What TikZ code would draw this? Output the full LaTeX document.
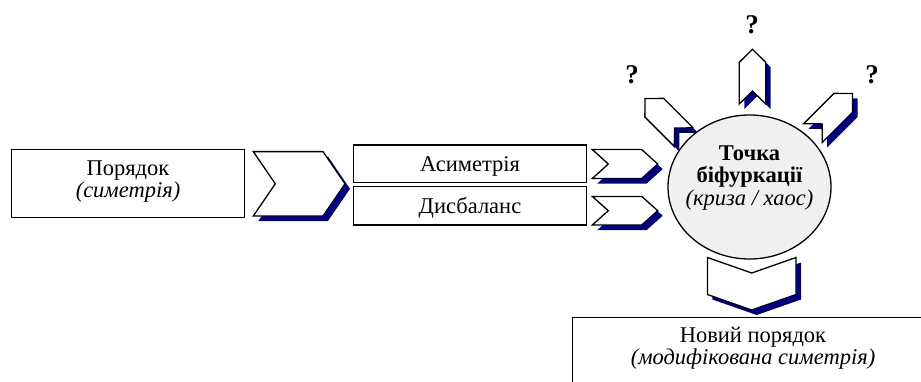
\documentclass[tikz,border=0pt]{standalone}
\usepackage{fontspec}
\setmainfont{Liberation Serif}
\usepackage{tikz}
\usetikzlibrary{shapes.geometric}
\definecolor{shadow_blue}{RGB}{0,0,128}
\definecolor{bif_gray}{RGB}{240,240,240}

% arrow shape: tip, direction, length, half width, notch depth
\newcommand{\chevron}[5]{%
  \fill[shadow_blue, shift={#1}, shift={(5,5)}, rotate=#2]
    (-#3,#4) -- (-#5,#4) -- (0,0) -- (-#5,-#4) -- (-#3,-#4) -- (-#3+#5,0) -- cycle;
  \filldraw[chev_style, shift={#1}, rotate=#2]
    (-#3,#4) -- (-#5,#4) -- (0,0) -- (-#5,-#4) -- (-#3,-#4) -- (-#3+#5,0) -- cycle;}

\begin{document}
\begin{tikzpicture}
	[x=1pt, y=-1pt,
	box_style/.style={rectangle, draw=black, line width=1.2pt, fill=white, inner sep=0pt},
	chev_style/.style={draw=black, fill=white, line width=1.3pt, line join=miter},
	txt_style/.style={font=\fontsize{22.5}{20}\selectfont, align=center},
	q_style/.style={font=\fontsize{27}{27}\selectfont\bfseries}]
	\clip (0,0) rectangle (921,381);

	\chevron{(345,183.8)}{0}{91.7}{32.2}{22}
	\chevron{(657.7,164)}{0}{65.4}{14.5}{16}
	\chevron{(657.7,210.7)}{0}{65.4}{14.3}{16}
	\chevron{(751.7,310)}{-90}{52.5}{44.3}{15.5}
	\chevron{(752.5,49.3)}{90}{54.7}{13.2}{13}
	\chevron{(645,98.5)}{135}{54.7}{13.2}{13}
	\chevron{(852.5,93.5)}{45}{56}{13.2}{13}

	\node[box_style, minimum width=233pt, minimum height=68pt] (order) at (128,183.3) {};
	\node[txt_style] (order_text) at (128,181.7) {Порядок\\\textit{(симетрія)}};

	\node[box_style, txt_style, text depth=0pt, minimum width=233.4pt, minimum height=37.7pt] (asym) at (470,163.9) {Асиметрія};
	\node[box_style, txt_style, text depth=0pt, minimum width=233.4pt, minimum height=38.3pt] (disb) at (470,205.9) {Дисбаланс};

	\node[ellipse, draw=black, line width=1.3pt, fill=bif_gray, minimum width=163pt, minimum height=144pt, inner sep=0pt] (bif) at (749.5,187) {};
	\node[font=\fontsize{22.5}{22.5}\selectfont, align=center] (bif_text) at ([yshift=9pt]bif.center)
		{\textbf{Точка}\\\textbf{біфуркації}\\\textit{(криза / хаос)}};

	\node[box_style, anchor=north west, minimum width=400pt, minimum height=100pt] (new_order) at (572,317) {};
	\node[txt_style] (new_order_text) at (753,348) {Новий порядок\\\textit{(модифікована симетрія)}};

	\node[q_style] (q_top) at (752,25) {?};
	\node[q_style] (q_left) at (632,75) {?};
	\node[q_style] (q_right) at (872,75) {?};
\end{tikzpicture}
\end{document}
